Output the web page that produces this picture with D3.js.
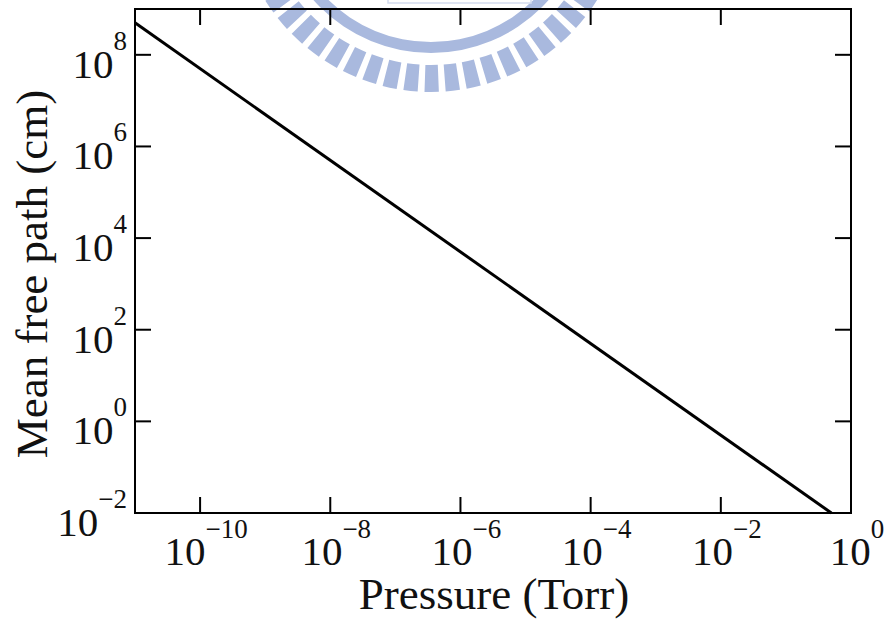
<!DOCTYPE html>
<html>
<head>
<meta charset="utf-8">
<script src="https://cdn.jsdelivr.net/npm/d3@7"></script>
<style>
  body { margin: 0; background: #fff; }
  svg { display: block; font-family: "Liberation Serif", "Times New Roman", serif; }
</style>
</head>
<body>
<svg id="chart"></svg>
<script>
// data: mean free path vs pressure (log-log)
const pressure = [1e-11, 0.5];          // Torr
const meanFreePath = [5e8, 1e-2];       // cm
const xTickExps = [-10, -8, -6, -4, -2, 0];
const yTickExps = [-2, 0, 2, 4, 6, 8];
const xTitle = 'Pressure (Torr)';
const yTitle = 'Mean free path (cm)';

const width = 893;
const height = 620;
const margin = { left: 135, right: 42, top: 9, bottom: 107 };

const svg = d3.select('#chart')
    .attr('width', width)
    .attr('height', height);

// watermark logo behind the plot (mostly cut off by the top of the page)
const logo = svg.append('g')
    .attr('transform', 'translate(431,-104)')
    .style('fill', '#a9b9de');

logo.append('path')
    .attr('d', d3.arc().innerRadius(146).outerRadius(157).startAngle(0).endAngle(2 * Math.PI));

const stripe = d3.arc().innerRadius(169).outerRadius(196);
const angles = d3.range(0, 360, 6.2);
logo.selectAll('.stripe')
    .data(angles)
    .enter().append('path')
    .attr('class', 'stripe')
    .attr('d', a => stripe({
        startAngle: (a - 2.1) * Math.PI / 180,
        endAngle: (a + 2.1) * Math.PI / 180
    }));

svg.append('rect')
    .attr('x', 388).attr('y', -4)
    .attr('width', 143).attr('height', 7)
    .style('fill', '#fff')
    .style('stroke', '#d3dbee')
    .style('stroke-width', 1.5);

const x = d3.scaleLog()
    .domain([1e-11, 1])
    .range([margin.left, width - margin.right]);

const y = d3.scaleLog()
    .domain([1e-2, 1e9])
    .range([height - margin.bottom, margin.top]);

const g = svg.append('g');

// data line
const line = d3.line()
    .x(d => x(d[0]))
    .y(d => y(d[1]));

g.append('path')
    .datum(pressure.map((p, i) => [p, meanFreePath[i]]))
    .attr('d', line)
    .style('fill', 'none')
    .style('stroke', '#000')
    .style('stroke-width', 3);

// frame
g.append('rect')
    .attr('x', x.range()[0])
    .attr('y', y.range()[1])
    .attr('width', x.range()[1] - x.range()[0])
    .attr('height', y.range()[0] - y.range()[1])
    .style('fill', 'none')
    .style('stroke', '#000')
    .style('stroke-width', 2);

const tickLen = 16;
const x0 = x.range()[0], x1 = x.range()[1];
const y0 = y.range()[0], y1 = y.range()[1];

// x ticks, mirrored on top
const xt = g.selectAll('.xt')
    .data(xTickExps)
    .enter().append('g')
    .attr('class', 'xt');
xt.append('line')
    .attr('x1', d => x(Math.pow(10, d))).attr('x2', d => x(Math.pow(10, d)))
    .attr('y1', y0).attr('y2', y0 - tickLen);
xt.append('line')
    .attr('x1', d => x(Math.pow(10, d))).attr('x2', d => x(Math.pow(10, d)))
    .attr('y1', y1).attr('y2', y1 + tickLen);
xt.selectAll('line')
    .style('stroke', '#000')
    .style('stroke-width', 2);

const xl = xt.append('text')
    .attr('x', d => x(Math.pow(10, d)) + 6)
    .attr('y', y0 + 52)
    .attr('text-anchor', 'middle')
    .style('font-size', '41px')
    .style('fill', '#111');
xl.append('tspan').text('10');
xl.append('tspan')
    .attr('dy', -27)
    .style('font-size', '27px')
    .text(d => d < 0 ? '\u2212' + Math.abs(d) : String(d));

// y ticks, mirrored on right
const yt = g.selectAll('.yt')
    .data(yTickExps)
    .enter().append('g')
    .attr('class', 'yt');
yt.append('line')
    .attr('y1', d => y(Math.pow(10, d))).attr('y2', d => y(Math.pow(10, d)))
    .attr('x1', x0).attr('x2', x0 + tickLen);
yt.append('line')
    .attr('y1', d => y(Math.pow(10, d))).attr('y2', d => y(Math.pow(10, d)))
    .attr('x1', x1).attr('x2', x1 - tickLen);
yt.selectAll('line')
    .style('stroke', '#000')
    .style('stroke-width', 2);

const yl = yt.append('text')
    .attr('x', x0 - 8)
    .attr('y', d => y(Math.pow(10, d)) + 23)
    .attr('text-anchor', 'end')
    .style('font-size', '41px')
    .style('fill', '#111');
yl.append('tspan').text('10');
yl.append('tspan')
    .attr('dy', -28)
    .style('font-size', '27px')
    .text(d => d < 0 ? '\u2212' + Math.abs(d) : String(d));

// axis titles
svg.append('text')
    .attr('x', (x0 + x1) / 2 + 1)
    .attr('y', 609)
    .attr('text-anchor', 'middle')
    .style('font-size', '45px')
    .style('fill', '#111')
    .text(xTitle);

svg.append('text')
    .attr('transform', 'translate(47,274) rotate(-90)')
    .attr('text-anchor', 'middle')
    .style('font-size', '45px')
    .style('fill', '#111')
    .text(yTitle);
</script>
</body>
</html>
